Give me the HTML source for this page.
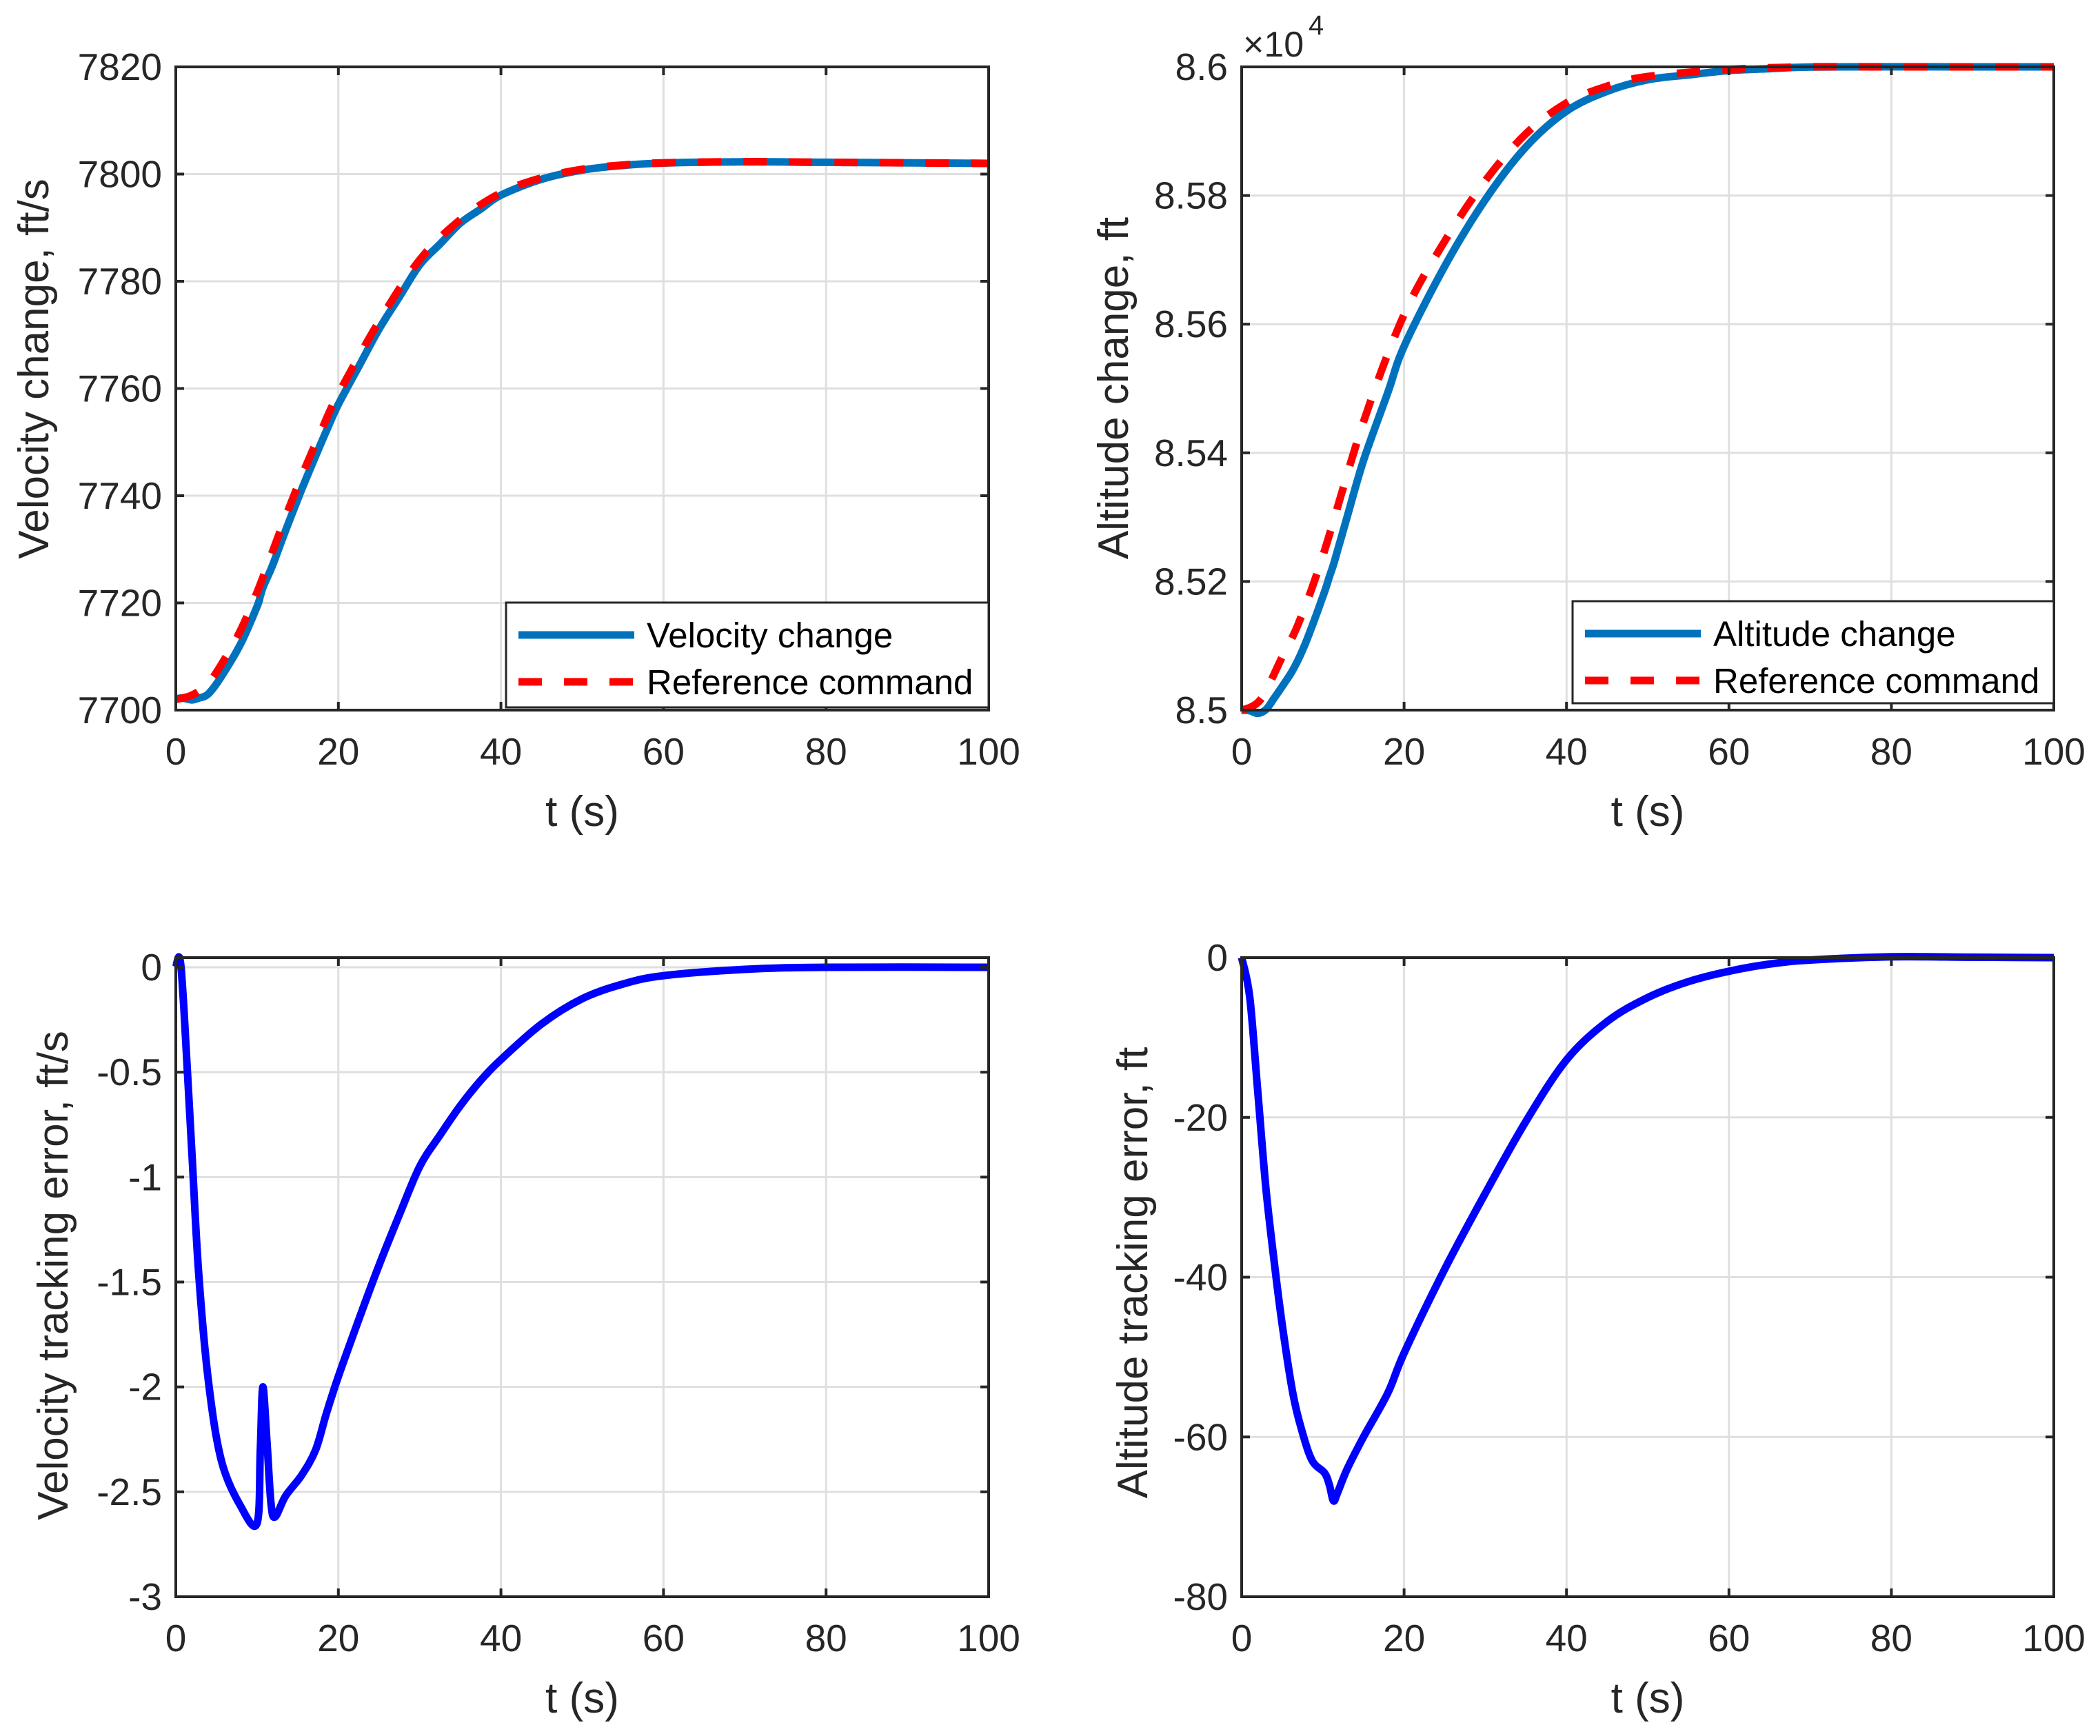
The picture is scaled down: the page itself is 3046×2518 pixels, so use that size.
<!DOCTYPE html>
<html><head><meta charset="utf-8"><style>
html,body{margin:0;padding:0;background:#fff;}
svg{display:block;font-family:"Liberation Sans",sans-serif;}
</style></head><body>
<svg id="fig" width="3046" height="2518" viewBox="0 0 3046 2518" xmlns="http://www.w3.org/2000/svg"></svg>
<script>
// ---- data ----
const tRef = [0,2,4,6,8,10,12,14,16,18,20,25,30,35,40,45,50,55,60,70,80,90,100];
const velRef = [7702,7702.8,7705,7709.5,7715,7722,7730,7738,7745.5,7752.5,7759,7772.5,7784,7791.5,7796.5,7799.3,7800.9,7801.7,7802.1,7802.3,7802.2,7802.1,7802];
const tVErr = [0,0.5,1,2,2.8,4,5.6,8,10,10.4,10.7,11.2,11.7,12.2,13.5,15.5,17.2,18.5,20,22.5,25,27.5,30,32.5,35,37.5,40,45,50,55,60,70,80,100];
const velErr = [0,0.04,-0.2,-0.9,-1.45,-1.97,-2.35,-2.57,-2.65,-2.3,-2.0,-2.25,-2.55,-2.62,-2.52,-2.42,-2.3,-2.13,-1.95,-1.68,-1.42,-1.18,-0.95,-0.8,-0.66,-0.54,-0.44,-0.27,-0.15,-0.08,-0.04,-0.01,0,0];
const tAlt = [0,1,2,3,5,7,10,15,20,25,30,35,40,45,50,60,70,80,100];
const altRef = [85000,85004,85012,85030,85083,85135,85240,85448,85615,85729,85823,85896,85944,85970,85985,85996,86000,86000,86000];
const tAErr = [0,1,2,3,4,5,6.3,7.5,8.7,10.2,10.8,11.3,11.8,13,15,18,20,25,30,35,40,45,50,55,60,65,70,80,90,100];
const altErr = [0,-5,-17,-29,-38,-46,-54.5,-59.5,-63,-64.5,-66,-68,-67,-64,-60,-54.5,-49.5,-39,-29.5,-20.5,-12.8,-8,-5,-3,-1.7,-0.8,-0.3,0.1,0.05,0];
const xTicks = [0,20,40,60,80,100];
const velTicks = [7700,7720,7740,7760,7780,7800,7820];
const altTicks = [8.5,8.52,8.54,8.56,8.58,8.6];
const vErrTicks = [-3,-2.5,-2,-1.5,-1,-0.5,0];
const vErrTickLabels = ["-3","-2.5","-2","-1.5","-1","-0.5","0"];
const aErrTicks = [-80,-60,-40,-20,0];

// ---- helpers ----
const NS="http://www.w3.org/2000/svg";
const svg=document.getElementById('fig');
const TF=55, LF=62, LW=11;
function mk(tag,attrs,parent){const e=document.createElementNS(NS,tag);for(const k in attrs)e.setAttribute(k,attrs[k]);(parent||svg).appendChild(e);return e;}
function interp(ts,vs,t){for(let i=0;i<ts.length-1;i++){if(t<=ts[i+1]){const f=(t-ts[i])/(ts[i+1]-ts[i]);return vs[i]+f*(vs[i+1]-vs[i]);}}return vs[vs.length-1];}
function smoothPath(pts){let d="M"+pts[0][0].toFixed(1)+","+pts[0][1].toFixed(1);
 for(let i=0;i<pts.length-1;i++){const p0=pts[Math.max(0,i-1)],p1=pts[i],p2=pts[i+1],p3=pts[Math.min(pts.length-1,i+2)];
 const c1=[p1[0]+(p2[0]-p0[0])/6,p1[1]+(p2[1]-p0[1])/6],c2=[p2[0]-(p3[0]-p1[0])/6,p2[1]-(p3[1]-p1[1])/6];
 d+=" C"+c1[0].toFixed(1)+","+c1[1].toFixed(1)+" "+c2[0].toFixed(1)+","+c2[1].toFixed(1)+" "+p2[0].toFixed(1)+","+p2[1].toFixed(1);}return d;}

function axes(o){
 const g=mk('g',{});
 
 
 const X=v=>o.L+(v-0)/(100)*(o.R-o.L);
 const Y=v=>o.B-(v-o.ymin)/(o.ymax-o.ymin)*(o.B-o.T);
 mk('rect',{x:o.L,y:o.T,width:o.R-o.L,height:o.B-o.T,fill:'#fff'},g);
 xTicks.forEach(v=>{const l=mk('line',{x1:X(v),x2:X(v),y1:o.T,y2:o.B,stroke:'#dfdfdf','stroke-width':3},g);
  });
 o.yt.forEach(v=>{const l=mk('line',{x1:o.L,x2:o.R,y1:Y(v),y2:Y(v),stroke:'#dfdfdf','stroke-width':3},g);
  });
 return {g,X,Y};
}
function frame(o,ax){
 const g=ax.g;
 mk('rect',{x:o.L,y:o.T,width:o.R-o.L,height:o.B-o.T,fill:'none',stroke:'#262626','stroke-width':4},g);
 xTicks.forEach(v=>{mk('line',{x1:ax.X(v),x2:ax.X(v),y1:o.B,y2:o.B-12,stroke:'#262626','stroke-width':4},g);
  mk('line',{x1:ax.X(v),x2:ax.X(v),y1:o.T,y2:o.T+12,stroke:'#262626','stroke-width':4},g);
  const t=mk('text',{x:ax.X(v),y:o.B+79,'font-size':TF,fill:'#262626','text-anchor':'middle'},g);t.textContent=v;
  });
 o.yt.forEach((v,i)=>{mk('line',{x1:o.L,x2:o.L+12,y1:ax.Y(v),y2:ax.Y(v),stroke:'#262626','stroke-width':4},g);
  mk('line',{x1:o.R,x2:o.R-12,y1:ax.Y(v),y2:ax.Y(v),stroke:'#262626','stroke-width':4},g);
  const t=mk('text',{x:o.L-20,y:ax.Y(v)+19,'font-size':TF,fill:'#262626','text-anchor':'end'},g);t.textContent=o.ytl[i];
  });
 const xl=mk('text',{x:(o.L+o.R)/2,y:o.B+168,'font-size':LF,fill:'#262626','text-anchor':'middle'},g);xl.textContent='t (s)';
 
 const yl=mk('text',{x:0,y:0,'font-size':LF,fill:'#262626','text-anchor':'middle',transform:`translate(${o.ylx},${o.yly}) rotate(-90)`},g);yl.textContent=o.ylabel;
 
}
function series(ax,ts,vs,style,name){
 const p=mk('path',Object.assign({d:smoothPath(ts.map((t,i)=>[ax.X(t),ax.Y(vs[i])])),fill:'none','stroke-linejoin':'round'},style),ax.g);
 
}
function legend(x,y,w,h,label1){
 const g=mk('g',{});
 
 mk('rect',{x,y,width:w,height:h,fill:'#fff',stroke:'#262626','stroke-width':3},g);
 mk('line',{x1:x+18,x2:x+186,y1:y+47,y2:y+47,stroke:'#0072BD','stroke-width':LW},g);
 const t1=mk('text',{x:x+204,y:y+65,'font-size':51,fill:'#000'},g);t1.textContent=label1;
 
 mk('line',{x1:x+18,x2:x+186,y1:y+115,y2:y+115,stroke:'#FF0000','stroke-width':LW,'stroke-dasharray':'34,32'},g);
 const t2=mk('text',{x:x+204,y:y+133,'font-size':51,fill:'#000'},g);t2.textContent='Reference command';
 
}

// derived actual series
const velAct = tVErr.map((t,i)=>interp(tRef,velRef,t)+velErr[i]);
const altAct = tAErr.map((t,i)=>interp(tAlt,altRef,t)+altErr[i]);

// plot 1
let o1={name:'velocity-plot',L:255,R:1434,T:97,B:1030,ymin:7700,ymax:7820,yt:velTicks,ytl:velTicks.map(String),ylabel:'Velocity change, ft/s',ylx:70,yly:535};
let a1=axes(o1);
series(a1,tVErr,velAct,{stroke:'#0072BD','stroke-width':LW},'velocity-change-line');
series(a1,tRef,velRef,{stroke:'#FF0000','stroke-width':LW,'stroke-dasharray':'34,32'},'velocity-reference-line');
frame(o1,a1);
legend(734,874,700,152,'Velocity change');

// plot 2
let o2={name:'altitude-plot',L:1801,R:2979,T:97,B:1030,ymin:8.5,ymax:8.6,yt:altTicks,ytl:altTicks.map(v=>v===8.5?'8.5':v===8.6?'8.6':v.toFixed(2)),ylabel:'Altitude change, ft',ylx:1636,yly:563};
let a2=axes(o2);
series(a2,tAErr,altAct.map(v=>v/1e4),{stroke:'#0072BD','stroke-width':LW},'altitude-change-line');
series(a2,tAlt,altRef.map(v=>v/1e4),{stroke:'#FF0000','stroke-width':LW,'stroke-dasharray':'34,32'},'altitude-reference-line');
frame(o2,a2);
const ex=mk('text',{x:1803,y:82,'font-size':52,fill:'#262626'});
ex.textContent='×10';

const ex2=mk('text',{x:1898,y:50,'font-size':40,fill:'#262626'});ex2.textContent='4';

legend(2281,872,698,148,'Altitude change');

// plot 3
let o3={name:'velocity-error-plot',L:255,R:1434,T:1389,B:2316,ymin:-3,ymax:0.046,yt:vErrTicks,ytl:vErrTickLabels,ylabel:'Velocity tracking error, ft/s',ylx:98,yly:1850};
let a3=axes(o3);
series(a3,tVErr,velErr,{stroke:'#0000FF','stroke-width':LW},'velocity-error-line');
frame(o3,a3);

// plot 4
let o4={name:'altitude-error-plot',L:1801,R:2979,T:1389,B:2316,ymin:-80,ymax:0,yt:aErrTicks,ytl:aErrTicks.map(String),ylabel:'Altitude tracking error, ft',ylx:1664,yly:1846};
let a4=axes(o4);
series(a4,tAErr,altErr,{stroke:'#0000FF','stroke-width':LW},'altitude-error-line');
frame(o4,a4);
</script>
</body></html>
